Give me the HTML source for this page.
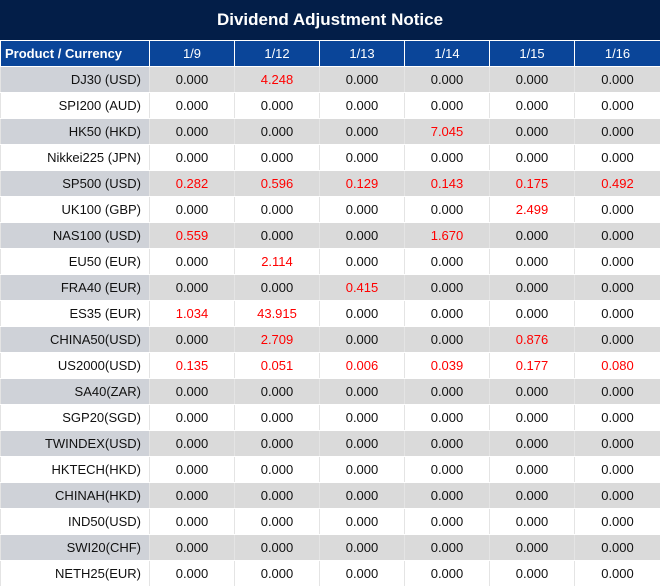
<!DOCTYPE html>
<html><head><style>
*{margin:0;padding:0;box-sizing:border-box}
body{width:660px;height:587px;background:#fff;font-family:"Liberation Sans",sans-serif;position:relative;overflow:hidden}
.t{position:absolute;left:0;top:0;width:660px;height:40px;background:#031e48;color:#fff;font-weight:bold;font-size:17px;text-align:center;line-height:40px}
table{position:absolute;left:0;top:40px;border-collapse:collapse;table-layout:fixed;width:660px}
td{height:26px;border:1px solid #fff;border-left:1px solid #e4e4e4;border-right:1px solid #e4e4e4;text-align:center;font-size:13px;color:#111;padding:0}
tr.h td{background:#0a4599;color:#fff;height:26px;border-color:#fff}
tr.h td:first-child{font-weight:bold;text-align:left;padding-left:4px}
td:first-child{text-align:right;padding-right:8px}
tr.g td{background:#dadada}
tr.g td:first-child{background:#cfd2d8}
.r{color:#f00}
</style></head><body>
<div class="t">Dividend Adjustment Notice</div>
<table>
<colgroup><col style="width:149px"><col style="width:85px"><col style="width:85px"><col style="width:85px"><col style="width:85px"><col style="width:85px"><col style="width:86px"></colgroup>
<tr class="h"><td>Product / Currency</td><td>1/9</td><td>1/12</td><td>1/13</td><td>1/14</td><td>1/15</td><td>1/16</td></tr>
<tr class="g"><td>DJ30 (USD)</td><td>0.000</td><td class="r">4.248</td><td>0.000</td><td>0.000</td><td>0.000</td><td>0.000</td></tr>
<tr><td>SPI200 (AUD)</td><td>0.000</td><td>0.000</td><td>0.000</td><td>0.000</td><td>0.000</td><td>0.000</td></tr>
<tr class="g"><td>HK50 (HKD)</td><td>0.000</td><td>0.000</td><td>0.000</td><td class="r">7.045</td><td>0.000</td><td>0.000</td></tr>
<tr><td>Nikkei225 (JPN)</td><td>0.000</td><td>0.000</td><td>0.000</td><td>0.000</td><td>0.000</td><td>0.000</td></tr>
<tr class="g"><td>SP500 (USD)</td><td class="r">0.282</td><td class="r">0.596</td><td class="r">0.129</td><td class="r">0.143</td><td class="r">0.175</td><td class="r">0.492</td></tr>
<tr><td>UK100 (GBP)</td><td>0.000</td><td>0.000</td><td>0.000</td><td>0.000</td><td class="r">2.499</td><td>0.000</td></tr>
<tr class="g"><td>NAS100 (USD)</td><td class="r">0.559</td><td>0.000</td><td>0.000</td><td class="r">1.670</td><td>0.000</td><td>0.000</td></tr>
<tr><td>EU50 (EUR)</td><td>0.000</td><td class="r">2.114</td><td>0.000</td><td>0.000</td><td>0.000</td><td>0.000</td></tr>
<tr class="g"><td>FRA40 (EUR)</td><td>0.000</td><td>0.000</td><td class="r">0.415</td><td>0.000</td><td>0.000</td><td>0.000</td></tr>
<tr><td>ES35 (EUR)</td><td class="r">1.034</td><td class="r">43.915</td><td>0.000</td><td>0.000</td><td>0.000</td><td>0.000</td></tr>
<tr class="g"><td>CHINA50(USD)</td><td>0.000</td><td class="r">2.709</td><td>0.000</td><td>0.000</td><td class="r">0.876</td><td>0.000</td></tr>
<tr><td>US2000(USD)</td><td class="r">0.135</td><td class="r">0.051</td><td class="r">0.006</td><td class="r">0.039</td><td class="r">0.177</td><td class="r">0.080</td></tr>
<tr class="g"><td>SA40(ZAR)</td><td>0.000</td><td>0.000</td><td>0.000</td><td>0.000</td><td>0.000</td><td>0.000</td></tr>
<tr><td>SGP20(SGD)</td><td>0.000</td><td>0.000</td><td>0.000</td><td>0.000</td><td>0.000</td><td>0.000</td></tr>
<tr class="g"><td>TWINDEX(USD)</td><td>0.000</td><td>0.000</td><td>0.000</td><td>0.000</td><td>0.000</td><td>0.000</td></tr>
<tr><td>HKTECH(HKD)</td><td>0.000</td><td>0.000</td><td>0.000</td><td>0.000</td><td>0.000</td><td>0.000</td></tr>
<tr class="g"><td>CHINAH(HKD)</td><td>0.000</td><td>0.000</td><td>0.000</td><td>0.000</td><td>0.000</td><td>0.000</td></tr>
<tr><td>IND50(USD)</td><td>0.000</td><td>0.000</td><td>0.000</td><td>0.000</td><td>0.000</td><td>0.000</td></tr>
<tr class="g"><td>SWI20(CHF)</td><td>0.000</td><td>0.000</td><td>0.000</td><td>0.000</td><td>0.000</td><td>0.000</td></tr>
<tr><td>NETH25(EUR)</td><td>0.000</td><td>0.000</td><td>0.000</td><td>0.000</td><td>0.000</td><td>0.000</td></tr>
</table>
</body></html>
